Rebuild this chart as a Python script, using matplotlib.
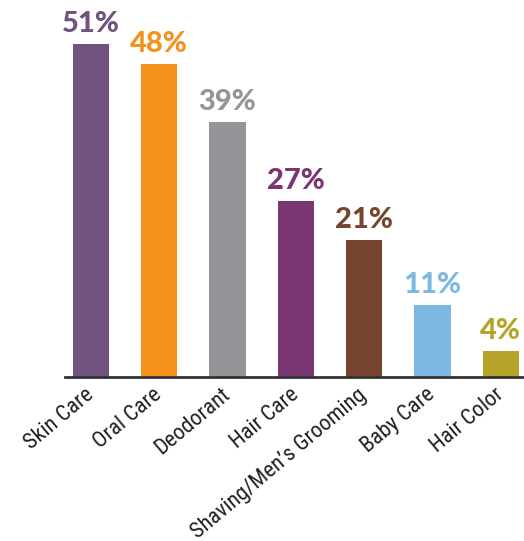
import matplotlib.pyplot as plt
import matplotlib as mp

mp.rcParams.update({'font.size': 10})

categories = ['Skin Care', 'Oral Care', 'Deodorant', 'Hair Care',
              'Shaving/Men\u2019s Grooming', 'Baby Care', 'Hair Color']
shares = [51, 48, 39, 27, 21, 11, 4]
bar_colors = ['#70527F', '#F5921E', '#939598', '#7A3573',
              '#774430', '#7DB8E3', '#B5A428']

fig = plt.figure(figsize=(5.24, 5.41), dpi=100, facecolor='w')
# axes: bottom spine at y=377px, left edge at x=65px
ax = fig.add_axes([65 / 524, 164 / 541, 459 / 524, 359 / 541])

x = list(range(len(categories)))
ax.bar(x, shares, width=0.53, color=bar_colors)

for xi, v, c in zip(x, shares, bar_colors):
    ax.annotate(str(v) + '%', xy=(xi, v), xytext=(0, 5), textcoords='offset points',
                ha='center', va='bottom', color=c, fontsize=21,
                fontweight=900, family=['Lato', 'DejaVu Sans'])

ax.set_xlim(-0.38, 6.34)
ax.set_ylim(0, 55)

ax.set_xticks(x)
ax.set_xticklabels(categories, rotation=40, ha='right', va='center',
                   rotation_mode='anchor', fontsize=16,
                   family=['Roboto Condensed', 'DejaVu Sans'], color='#231F20')
ax.tick_params(axis='x', length=0, pad=11)
ax.set_yticks([])

for side in ['left', 'right', 'top']:
    ax.spines[side].set_visible(False)
ax.spines['bottom'].set_color('#333333')
ax.spines['bottom'].set_linewidth(2)

plt.savefig('out.png', dpi=100)
plt.close()
